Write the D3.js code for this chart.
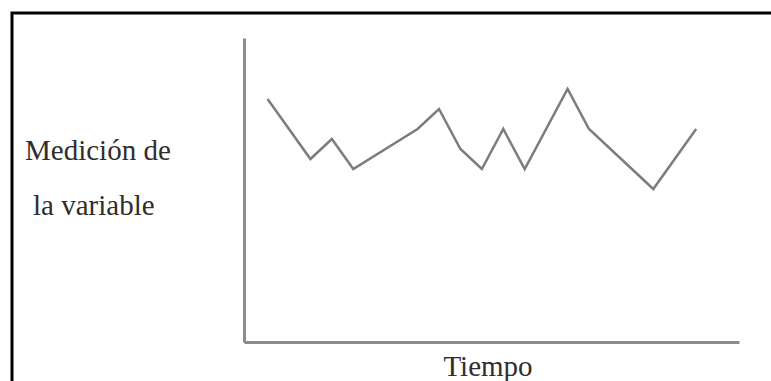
<!DOCTYPE html>
<html>
<head>
<meta charset="utf-8">
<script src="https://cdn.jsdelivr.net/npm/d3@7"></script>
<style>
  body { margin: 0; background: #fff; }
  svg { display: block; }
  text { font-family: 'Liberation Serif', 'Times New Roman', 'DejaVu Serif', serif; }
</style>
</head>
<body>
<script>
const tiempo = [0, 2, 3, 4, 7, 8, 9, 10, 11, 12, 14, 15, 18, 20];
const medicion = [4.5, 1.5, 2.5, 1, 3, 4, 2, 1, 3, 1, 5, 3, 0, 3];
const yLabel = ['Medición de', 'la variable'];
const xLabel = 'Tiempo';

const W = 771, H = 381;
const svg = d3.select('body').append('svg').attr('width', W).attr('height', H);

// outer frame (right/bottom edges fall outside the picture)
svg.append('rect')
  .attr('x', 12).attr('y', 13)
  .attr('width', W + 10).attr('height', H + 10)
  .attr('fill', 'none').attr('stroke', '#000').attr('stroke-width', 3);

const x = d3.scaleLinear().domain([-1.1, 22]).range([244, 739]);
const y = d3.scaleLinear().domain([-7.65, 7.55]).range([342, 38]);

const axisStyle = g => {
  g.select('.domain').attr('stroke', '#8c8c8c').attr('stroke-width', 3);
  g.selectAll('.tick').remove();
};

svg.append('g')
  .attr('transform', `translate(0,${y.range()[0]})`)
  .call(d3.axisBottom(x).tickValues([]).tickSizeOuter(0))
  .call(axisStyle);

svg.append('g')
  .attr('transform', `translate(${x.range()[0]},0)`)
  .call(d3.axisLeft(y).tickValues([]).tickSizeOuter(0))
  .call(axisStyle);

const line = d3.line()
  .x((d, i) => x(tiempo[i]))
  .y(d => y(d));

svg.append('path')
  .datum(medicion)
  .attr('d', line)
  .attr('fill', 'none')
  .attr('stroke', '#7d7d7d')
  .attr('stroke-width', 2.5)
  .attr('stroke-linejoin', 'miter');

svg.selectAll('text.ylab')
  .data(yLabel)
  .enter()
  .append('text')
  .attr('class', 'ylab')
  .attr('x', (d, i) => i === 0 ? 25 : 33)
  .attr('y', (d, i) => 160 + i * 55)
  .attr('font-size', 29)
  .attr('fill', '#2e2e2e')
  .text(d => d);

svg.append('text')
  .attr('x', 488)
  .attr('y', 376)
  .attr('text-anchor', 'middle')
  .attr('font-size', 29)
  .attr('fill', '#2e2e2e')
  .text(xLabel);
</script>
</body>
</html>
